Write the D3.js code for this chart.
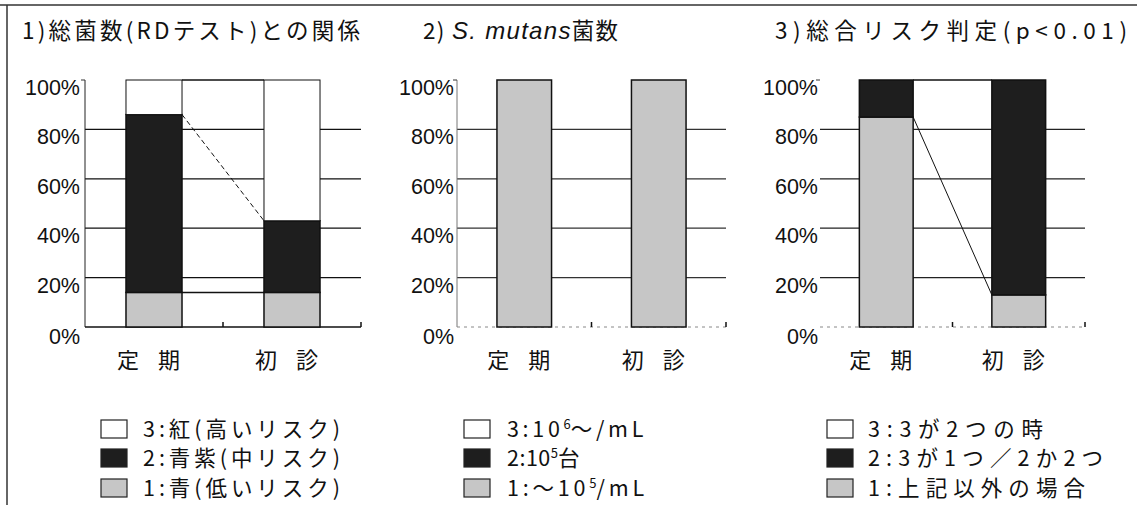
<!DOCTYPE html>
<html><head><meta charset="utf-8">
<script src="https://cdn.jsdelivr.net/npm/d3@7"></script>
<style>
body{margin:0;background:#fff;}
text{font-family:"Noto Sans CJK JP","Noto Sans",sans-serif;fill:#111;}
.num{font-family:"Liberation Sans",Arial,sans-serif;}
</style></head>
<body><svg id="c" width="1137" height="505"></svg>
<script>
// ---- data ----
const categories = ["定期", "初診"];
const yTicks = [0, 20, 40, 60, 80, 100];
// panel 1: 総菌数(RDテスト)
const rdLow = [14, 14];
const rdMid = [72, 29];
const rdHigh = [14, 57];
// panel 2: S. mutans菌数
const smLow = [100, 100];
const smMid = [0, 0];
const smHigh = [0, 0];
// panel 3: 総合リスク判定
const totLow = [85, 13];
const totMid = [15, 87];
const totHigh = [0, 0];
const legend1 = ["3:紅(高いリスク)", "2:青紫(中リスク)", "1:青(低いリスク)"];
const legend3 = ["3:3が2つの時", "2:3が1つ／2か2つ", "1:上記以外の場合"];

// ---- layout ----
const svg = d3.select("#c");
const fills = {low: "#c6c6c6", mid: "#1e1e1e", high: "#ffffff"};

// stretch a text's letter spacing so it spans from its x to targetRight
function fitTo(sel, targetRight) {
  const node = sel.node();
  const x0 = +sel.attr("x");
  sel.attr("letter-spacing", 0);
  const w = node.getComputedTextLength();
  const n = node.textContent.length;
  const ls = Math.max(0, (targetRight - x0 - w) / Math.max(1, n - 1));
  sel.attr("letter-spacing", ls);
  sel.selectAll("tspan").each(function () {
    if (d3.select(this).attr("data-sup")) d3.select(this).attr("letter-spacing", 0);
  });
  return sel;
}

svg.append("line").attr("x1", 0).attr("x2", 1137).attr("y1", 5).attr("y2", 5).attr("stroke", "#333").attr("stroke-width", 1.5);
svg.append("line").attr("x1", 7).attr("x2", 7).attr("y1", 5).attr("y2", 505).attr("stroke", "#333").attr("stroke-width", 1.5);

const panels = [
  {x0: 85, x1: 361, low: rdLow, mid: rdMid, high: rdHigh, labelRight: 80, yAxis: "#222", xAxisDash: null, gridColor: "#111",
   connectors: [{k: "low", dash: null, w: 1.5}, {k: "mid", dash: "5,3", w: 1}, {k: "high", dash: null, w: 1.5}]},
  {x0: 457, x1: 726, low: smLow, mid: smMid, high: smHigh, labelRight: 454, yAxis: "#777", xAxisDash: "3,4", gridColor: "#333",
   connectors: []},
  {x0: 820, x1: 1085, low: totLow, mid: totMid, high: totHigh, labelRight: 818, yAxis: null, xAxisDash: "3,4", gridColor: "#222",
   connectors: [{k: "low", dash: null, w: 1}, {k: "mid", dash: null, w: 1.5}]}
];

const y = d3.scaleLinear().domain([0, 100]).range([327, 80]);

panels.forEach((p, pi) => {
  const g = svg.append("g");
  const x = d3.scaleBand().domain(categories).range([p.x0, p.x1]).paddingInner(0.594).paddingOuter(0.297);
  // gridlines
  g.selectAll(".grid").data(yTicks.filter(t => t > 0 && t < 100)).join("line")
    .attr("x1", p.x0).attr("x2", p.x1).attr("y1", d => y(d)).attr("y2", d => y(d))
    .attr("stroke", p.gridColor).attr("stroke-width", 1.3);
  // y axis line
  if (p.yAxis) g.append("line").attr("x1", p.x0).attr("x2", p.x0).attr("y1", y(100)).attr("y2", y(0)).attr("stroke", p.yAxis).attr("stroke-width", 1);
  // x axis line
  g.append("line").attr("x1", p.x0).attr("x2", p.x1).attr("y1", y(0)).attr("y2", y(0))
    .attr("stroke", pi === 0 ? "#111" : "#888").attr("stroke-width", pi === 0 ? 1.5 : 1)
    .attr("stroke-dasharray", p.xAxisDash);
  // category boundary ticks
  g.selectAll(".ctick").data(categories).join("line")
    .attr("x1", d => x(d) + x.bandwidth() / 2 + x.step() / 2).attr("x2", d => x(d) + x.bandwidth() / 2 + x.step() / 2)
    .attr("y1", y(0)).attr("y2", y(0) - 5).attr("stroke", "#111").attr("stroke-width", 1.5);
  g.append("line").attr("x1", p.x0).attr("x2", p.x0 - 4).attr("y1", y(100)).attr("y2", y(100)).attr("stroke", "#333");
  // y tick labels
  g.selectAll(".yl").data(yTicks).join("text").attr("class", "num")
    .attr("x", p.labelRight).attr("y", d => y(d) + 15 + (d === 0 ? 2 : 0))
    .attr("text-anchor", "end").attr("font-size", 21.5).text(d => d + "%");
  // stacked bars
  const rows = categories.map((c, i) => ({cat: c, low: p.low[i], mid: p.mid[i], high: p.high[i]}));
  const stack = d3.stack().keys(["low", "mid", "high"])(rows);
  stack.forEach(layer => {
    g.selectAll(null).data(layer.filter(d => d[1] > d[0])).join("rect")
      .attr("x", d => x(d.data.cat)).attr("width", x.bandwidth())
      .attr("y", d => y(d[1])).attr("height", d => y(d[0]) - y(d[1]))
      .attr("fill", fills[layer.key]).attr("stroke", "#111").attr("stroke-width", layer.key === "high" ? 1 : 1.5);
  });
  // series connector lines
  p.connectors.forEach(cn => {
    const layer = stack.find(l => l.key === cn.k);
    g.append("line")
      .attr("x1", x(categories[0]) + x.bandwidth()).attr("y1", y(layer[0][1]))
      .attr("x2", x(categories[1])).attr("y2", y(layer[1][1]))
      .attr("stroke", "#111").attr("stroke-width", cn.w).attr("stroke-dasharray", cn.dash);
  });
  // category labels
  g.selectAll(".cl").data(categories).join("text")
    .attr("x", d => x(d) + x.bandwidth() / 2 + 4).attr("y", 368)
    .attr("text-anchor", "middle").attr("font-size", 22).attr("letter-spacing", 19).text(d => d);
});

// titles
fitTo(svg.append("text").attr("x", 22).attr("y", 39).attr("font-size", 22.5)
  .text("1)総菌数(RDテスト)との関係"), 360);
const t2 = svg.append("text").attr("x", 423).attr("y", 39).attr("font-size", 22.5);
t2.append("tspan").text("2) ");
t2.append("tspan").attr("font-family", "Liberation Sans").attr("font-style", "italic").attr("font-size", 24).text("S. mutans");
t2.append("tspan").text("菌数");
fitTo(t2, 618);
fitTo(svg.append("text").attr("x", 775).attr("y", 39).attr("font-size", 22.5)
  .text("3)総合リスク判定(p<0.01)"), 1127);

// legends
const legendY = [437, 466, 496];
const legendKeys = ["high", "mid", "low"];
function legendBoxes(bx) {
  legendKeys.forEach((k, i) => {
    svg.append("rect").attr("x", bx).attr("y", legendY[i] - 17).attr("width", 26).attr("height", 18)
      .attr("fill", fills[k]).attr("stroke", "#222").attr("stroke-width", 1.2);
  });
}
legendBoxes(101);
legendBoxes(464);
legendBoxes(827);
const l1Right = [340, 340, 340];
const l2Right = [647, 580, 648];
const l3Right = [1043, 1103, 1085];
legend1.forEach((s, i) => fitTo(svg.append("text").attr("x", 143).attr("y", legendY[i]).attr("font-size", 21.5).text(s), l1Right[i]));
legend3.forEach((s, i) => fitTo(svg.append("text").attr("x", 868).attr("y", legendY[i]).attr("font-size", 21.5).text(s), l3Right[i]));
// panel 2 legend with superscripts
const l2 = [
  [["3:10", 0], ["6", 1], ["～/mL", 0]],
  [["2:10", 0], ["5", 1], ["台", 0]],
  [["1:～10", 0], ["5", 1], ["/mL", 0]]
];
l2.forEach((parts, i) => {
  const t = svg.append("text").attr("x", 507).attr("y", legendY[i]).attr("font-size", 21.5);
  parts.forEach(([s, sup], j) => {
    const ts = t.append("tspan").text(s);
    if (sup) ts.attr("font-size", 13).attr("dy", -8).attr("data-sup", 1);
    else if (j > 0 && parts[j - 1][1]) ts.attr("dy", 8);
  });
  fitTo(t, l2Right[i]);
});
</script></body></html>
